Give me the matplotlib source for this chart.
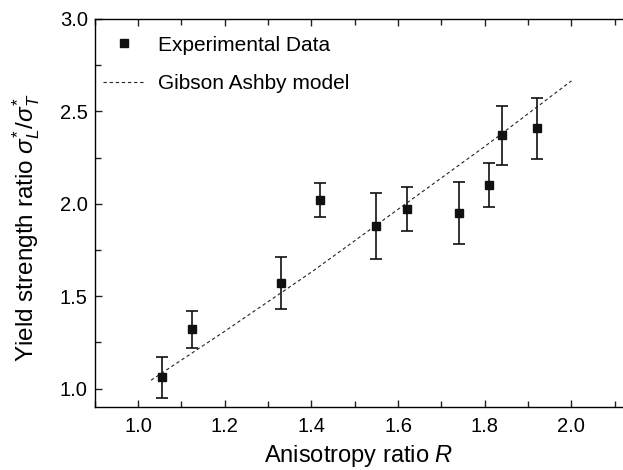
import matplotlib
matplotlib.use('Agg')
import matplotlib.pyplot as plt
from matplotlib.lines import Line2D
from matplotlib.ticker import MultipleLocator

plt.rcParams['font.family'] = ['Liberation Sans', 'DejaVu Sans']
plt.rcParams['mathtext.fontset'] = 'custom'
plt.rcParams['mathtext.rm'] = 'Liberation Sans'
plt.rcParams['mathtext.it'] = 'Liberation Sans:italic'

# measured points (anisotropy ratio R vs yield strength ratio)
aniso_r = [1.055, 1.125, 1.33, 1.42, 1.55, 1.62, 1.74, 1.81, 1.84, 1.92]
yield_ratio = [1.06, 1.32, 1.57, 2.02, 1.88, 1.97, 1.95, 2.10, 2.37, 2.41]
err_low = [0.11, 0.10, 0.14, 0.09, 0.18, 0.12, 0.17, 0.12, 0.16, 0.17]
err_high = [0.11, 0.10, 0.14, 0.09, 0.18, 0.12, 0.17, 0.12, 0.16, 0.16]

# Gibson Ashby model curve
model_r = [1.03, 1.2, 1.4, 1.6, 1.8, 2.0]
model_ratio = [1.045, 1.31, 1.63, 1.97, 2.31, 2.665]

fig = plt.figure(figsize=(6.23, 4.70), dpi=100)
ax = fig.add_axes([0.152, 0.134, 0.848, 0.8256])

ax.errorbar(aniso_r, yield_ratio, yerr=[err_low, err_high], fmt='s', color='#111111',
            ms=6, capsize=4.5, elinewidth=1.2, capthick=1.2)
ax.plot(model_r, model_ratio, color='#222222', lw=0.8, linestyle=(0, (3, 2.5)))

ax.set_xlim(0.9, 2.119)
ax.set_ylim(0.9, 3.0)
ax.xaxis.set_major_locator(MultipleLocator(0.2))
ax.xaxis.set_minor_locator(MultipleLocator(0.1))
ax.yaxis.set_major_locator(MultipleLocator(0.5))
ax.yaxis.set_minor_locator(MultipleLocator(0.25))
ax.tick_params(which='both', direction='in', top=True, right=False, labelsize=14.5,
               width=1.0, color='#222222')
ax.tick_params(which='major', length=5)
ax.tick_params(which='minor', length=4)
ax.tick_params(axis='x', pad=7)
ax.tick_params(axis='y', pad=5)
ax.spines['right'].set_visible(False)
for s in ['left', 'bottom', 'top']:
    ax.spines[s].set_linewidth(1.0)

ax.set_xlabel(r'Anisotropy ratio $R$', fontsize=17, labelpad=5)
ax.set_ylabel(r'Yield strength ratio $\sigma_L^{*}/\sigma_T^{*}$', fontsize=17.5)
ax.yaxis.set_label_coords(-0.099, 0.461)

# legend: plain marker for the data, dashed line for the model
handles = [
    Line2D([], [], marker='s', ms=6, ls='none', color='#111111'),
    Line2D([], [], color='#222222', lw=0.8, linestyle=(0, (3, 2.5))),
]
labels = ['Experimental Data', 'Gibson Ashby model']
ax.legend(handles, labels, loc='upper left', bbox_to_anchor=(-0.004, 0.984),
          frameon=False, fontsize=15, handlelength=2.0, handletextpad=0.65,
          labelspacing=0.95, borderaxespad=0.0, borderpad=0.5)

fig.savefig('out.png', dpi=100)
